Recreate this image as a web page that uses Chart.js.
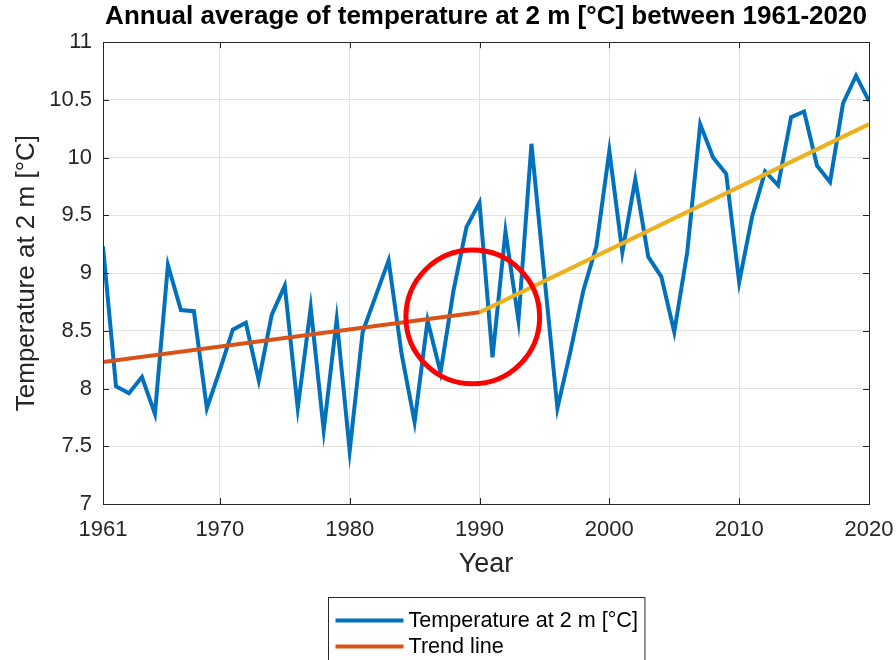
<!DOCTYPE html>
<html>
<head>
<meta charset="utf-8">
<script src="https://cdn.jsdelivr.net/npm/chart.js@4.4.1/dist/chart.umd.min.js"></script>
<style>
    html, body { margin: 0; padding: 0; background: #ffffff; }
    #wrap { width: 896px; height: 660px; position: relative; }
</style>
</head>
<body>
<div id="wrap"><canvas id="tempChart"></canvas></div>
<script>
// years on the x axis
const years = [1961, 1962, 1963, 1964, 1965, 1966, 1967, 1968, 1969, 1970,
               1971, 1972, 1973, 1974, 1975, 1976, 1977, 1978, 1979, 1980,
               1981, 1982, 1983, 1984, 1985, 1986, 1987, 1988, 1989, 1990,
               1991, 1992, 1993, 1994, 1995, 1996, 1997, 1998, 1999, 2000,
               2001, 2002, 2003, 2004, 2005, 2006, 2007, 2008, 2009, 2010,
               2011, 2012, 2013, 2014, 2015, 2016, 2017, 2018, 2019, 2020];

// annual mean temperature at 2 m
const temps = [9.23, 8.02, 7.96, 8.10, 7.78, 9.07, 8.68, 8.67, 7.83, 8.16,
               8.51, 8.57, 8.07, 8.64, 8.89, 7.83, 8.70, 7.64, 8.60, 7.46,
               8.49, 8.80, 9.11, 8.30, 7.71, 8.59, 8.14, 8.85, 9.40, 9.61,
               8.27, 9.36, 8.59, 10.12, 8.97, 7.83, 8.32, 8.85, 9.23, 10.06,
               9.18, 9.81, 9.14, 8.97, 8.49, 9.18, 10.29, 10.00, 9.86, 8.92,
               9.49, 9.88, 9.76, 10.35, 10.40, 9.93, 9.79, 10.47, 10.71, 10.49];

// trend line pieces
const trendYears1 = [1961, 1990];
const trendVals1 = [8.23, 8.66];
const trendYears2 = [1990, 2020];
const trendVals2 = [8.66, 10.29];

const xTickValues = [1961, 1970, 1980, 1990, 2000, 2010, 2020];
const yTickValues = [7, 7.5, 8, 8.5, 9, 9.5, 10, 10.5, 11];

// highlighted spot (red circle)
const circleCenter = [1989.48, 8.62];
const circleRadiusYears = 5.15;

const FONT = "'Liberation Sans', Arial, Helvetica, sans-serif";
const AXIS_COLOR = '#262626';
const GRID_COLOR = '#e2e2e2';

Chart.defaults.font.family = FONT;
Chart.defaults.color = AXIS_COLOR;

function toPoints(xs, ys) {
    return xs.map((x, i) => ({ x: x, y: ys[i] }));
}

// axes box + inward tick marks like the original plot
const boxPlugin = {
    id: 'boxPlugin',
    afterDatasetsDraw(chart) {
        const { ctx, chartArea: a, scales } = chart;
        ctx.save();
        ctx.strokeStyle = AXIS_COLOR;
        ctx.lineWidth = 1;
        ctx.beginPath();
        scales.x.ticks.forEach(t => {
            const px = Math.round(scales.x.getPixelForValue(t.value)) + 0.5;
            ctx.moveTo(px, a.bottom); ctx.lineTo(px, a.bottom - 6);
            ctx.moveTo(px, a.top); ctx.lineTo(px, a.top + 6);
        });
        scales.y.ticks.forEach(t => {
            const py = Math.round(scales.y.getPixelForValue(t.value)) + 0.5;
            ctx.moveTo(a.left, py); ctx.lineTo(a.left + 6, py);
            ctx.moveTo(a.right, py); ctx.lineTo(a.right - 6, py);
        });
        ctx.stroke();
        ctx.strokeRect(Math.round(a.left) + 0.5, Math.round(a.top) + 0.5,
                       Math.round(a.right - a.left), Math.round(a.bottom - a.top));

        // red circle
        const cx = scales.x.getPixelForValue(circleCenter[0]);
        const cy = scales.y.getPixelForValue(circleCenter[1]);
        const r = scales.x.getPixelForValue(circleCenter[0] + circleRadiusYears) - cx;
        ctx.strokeStyle = '#ff0000';
        ctx.lineWidth = 5;
        ctx.beginPath();
        ctx.arc(cx, cy, r, 0, Math.PI * 2);
        ctx.stroke();
        ctx.restore();
    }
};

// boxed legend under the axis title (cut off by the canvas edge, as in the picture)
const boxLegend = {
    id: 'boxLegend',
    afterDraw(chart) {
        const { ctx, chartArea: a } = chart;
        const items = chart.data.datasets;
        ctx.save();
        ctx.font = '21.6px ' + FONT;
        let maxW = 0;
        items.forEach(d => { maxW = Math.max(maxW, ctx.measureText(d.legendText).width); });
        const w = 80 + maxW + 7;
        const rowH = 26;
        const left = Math.round((a.left + a.right) / 2 - w / 2) + 0.5;
        const top = Math.round(a.bottom + 93) + 0.5;
        const h = 10 + rowH * items.length + 8;
        ctx.fillStyle = '#ffffff';
        ctx.fillRect(left, top, w, h);
        ctx.strokeStyle = AXIS_COLOR;
        ctx.lineWidth = 1;
        ctx.strokeRect(left, top, w, h);
        items.forEach((d, i) => {
            const y = top + 10 + rowH * i + rowH / 2;
            ctx.strokeStyle = d.borderColor;
            ctx.lineWidth = 4;
            ctx.beginPath();
            ctx.moveTo(left + 7, y);
            ctx.lineTo(left + 75, y);
            ctx.stroke();
            ctx.fillStyle = '#000000';
            ctx.textBaseline = 'middle';
            ctx.textAlign = 'left';
            ctx.fillText(d.legendText, left + 80, y + 1);
        });
        ctx.restore();
    }
};

const ctx = document.getElementById('tempChart').getContext('2d');
const tempChart = new Chart(ctx, {
    type: 'line',
    data: {
        datasets: [{
            label: 'Temperature at 2 m [°C]',
            legendText: 'Temperature at 2 m [°C]',
            data: toPoints(years, temps),
            borderColor: '#0072BD',
            borderWidth: 4,
            pointRadius: 0,
            tension: 0,
            order: 2
        }, {
            label: 'Trend line',
            legendText: 'Trend line',
            data: toPoints(trendYears1, trendVals1),
            borderColor: '#D95319',
            borderWidth: 4,
            pointRadius: 0,
            order: 1
        }, {
            label: 'Trend line',
            legendText: 'Trend line',
            data: toPoints(trendYears2, trendVals2),
            borderColor: '#EDB120',
            borderWidth: 4,
            pointRadius: 0,
            order: 1
        }]
    },
    options: {
        responsive: true,
        maintainAspectRatio: false,
        animation: false,
        layout: { padding: { left: 0, top: 0, right: 27, bottom: 0 } },
        plugins: {
            legend: { display: false },
            tooltip: { enabled: false },
            title: {
                display: true,
                fullSize: false,
                text: 'Annual average of temperature at 2 m [°C] between 1961-2020',
                color: '#000000',
                font: { size: 26, weight: 'bold' },
                padding: { top: 1, bottom: 10 }
            }
        },
        scales: {
            x: {
                type: 'linear',
                min: 1961,
                max: 2020,
                afterBuildTicks: scale => { scale.ticks = xTickValues.map(v => ({ value: v })); },
                afterFit: scale => {
                    scale.height = 156;
                    scale.paddingLeft = 0;
                    scale.paddingRight = 0;
                },
                ticks: {
                    color: AXIS_COLOR,
                    font: { size: 22 },
                    padding: 13,
                    maxRotation: 0,
                    autoSkip: false,
                    callback: v => String(v)
                },
                grid: { color: GRID_COLOR, drawTicks: false },
                border: { display: false },
                title: {
                    display: true,
                    text: 'Year',
                    color: AXIS_COLOR,
                    font: { size: 27 },
                    padding: { top: 0, bottom: 79 }
                }
            },
            y: {
                min: 7,
                max: 11,
                afterBuildTicks: scale => { scale.ticks = yTickValues.map(v => ({ value: v })); },
                afterFit: scale => { scale.width = 103; },
                ticks: {
                    color: AXIS_COLOR,
                    font: { size: 22 },
                    padding: 11,
                    callback: v => String(+v.toFixed(2))
                },
                grid: { color: GRID_COLOR, drawTicks: false },
                border: { display: false },
                title: {
                    display: true,
                    text: 'Temperature at 2 m [°C]',
                    color: AXIS_COLOR,
                    font: { size: 26 },
                    padding: { top: 11, bottom: 0 }
                }
            }
        }
    },
    plugins: [boxPlugin, boxLegend]
});
</script>
</body>
</html>
